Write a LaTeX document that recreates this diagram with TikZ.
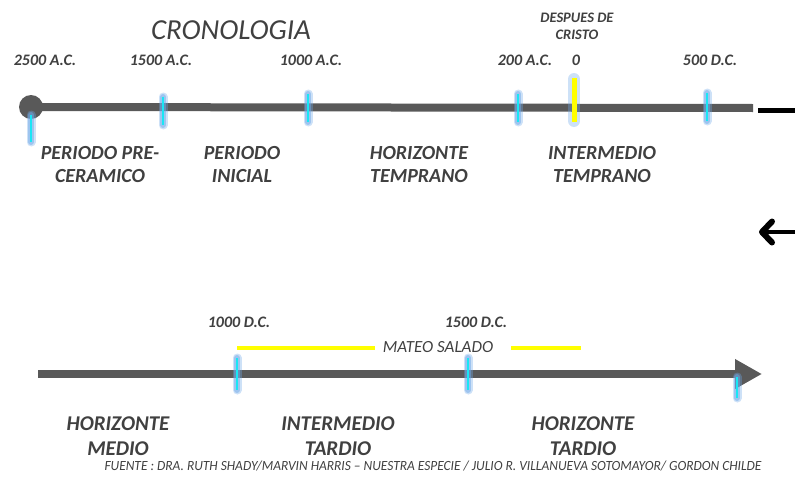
\documentclass[tikz,border=0pt]{standalone}
\usepackage{fontspec}
\setmainfont{Carlito}
\usetikzlibrary{arrows.meta}

\definecolor{eje}{HTML}{595959}
\definecolor{letra}{HTML}{404040}
\definecolor{celeste}{HTML}{19E6F5}
\definecolor{halo}{HTML}{6FA8E8}
\definecolor{amarillo}{HTML}{FFFF00}

\tikzset{
  linea/.style={eje, line width=8pt},
  fecha/.style={text=letra, inner sep=0pt, font=\fontsize{16}{18}\selectfont\bfseries\itshape},
  periodo/.style={text=letra, inner sep=0pt, align=center, font=\fontsize{20}{23}\selectfont\bfseries\itshape},
  periodob/.style={periodo, font=\fontsize{21}{25}\selectfont\bfseries\itshape},
  brillo/.style={halo, line width=9pt, line cap=round, opacity=0.35},
  brillob/.style={halo, line width=6pt, line cap=round, opacity=0.5},
  marca/.style={celeste, line width=1.8pt},
}

\begin{document}
\begin{tikzpicture}[x=1pt, y=-1pt]
      \useasboundingbox (0,0) rectangle (795,479);

      \node[text=letra, inner sep=0pt, font=\fontsize{29}{32}\selectfont\itshape] (titulo) at (231,30) {CRONOLOGIA};

      % linea superior
      \coordinate (fin1) at (753,108);
      \node[circle, fill=eje, minimum size=24pt, inner sep=0pt] (origen) at (31,107) {};
      \draw[linea] (origen.center) -- (fin1);
      \coordinate (raya1) at (758,110);
      \coordinate (raya2) at (795,110);
      \draw[black, line width=5pt] (raya1) -- (raya2);

      \foreach \x/\a/\b in {31/115/142, 163/97/125, 308/94/122, 518/94/122, 707/93/121} {
          \draw[brillo] (\x,\a) -- (\x,\b);
          \draw[brillob] (\x,\a) -- (\x,\b);
          \draw[marca] (\x,\a) -- (\x,\b);
        }
      \draw[brillo, line width=12pt] (574,79) -- (574,121);
      \draw[amarillo, line width=5pt] (574,78) -- (574,122);

      \node[fecha] (f2500) at (45,60.5) {2500 A.C.};
      \node[fecha] (f1500) at (161,60.5) {1500 A.C.};
      \node[fecha] (f1000) at (311,60.5) {1000 A.C.};
      \node[fecha] (f200) at (525,60.5) {200 A.C.};
      \node[fecha] (f0) at (576,60.5) {0};
      \node[fecha] (f500) at (710,60.5) {500 D.C.};
      \node[fecha, align=center, font=\fontsize{14.5}{17.5}\selectfont\bfseries\itshape] (cristo) at (577,26.5) {DESPUES DE\\CRISTO};

      \node[periodo] (precer) at (100,165) {PERIODO PRE-\\CERAMICO};
      \node[periodo] (inicial) at (242,165) {PERIODO\\INICIAL};
      \node[periodo] (htemp) at (419,165) {HORIZONTE\\TEMPRANO};
      \node[periodo] (itemp) at (602,165) {INTERMEDIO\\TEMPRANO};

      % flecha de regreso
      \coordinate (punta) at (759,232);
      \coordinate (cola) at (795,232);
      \draw[black, line width=4pt, {Straight Barb[length=10pt, width=21pt, line width=6pt, round]}-] (punta) -- (cola);

      % linea inferior
      \coordinate (ini2) at (38,374);
      \coordinate (fin2) at (762,374);
      \draw[linea, -{Triangle[length=27pt, width=28pt]}] (ini2) -- (fin2);

      \coordinate (mateo1) at (237,348);
      \coordinate (mateo2) at (375,348);
      \coordinate (mateo3) at (511,348);
      \coordinate (mateo4) at (581,348);
      \draw[amarillo, line width=4pt] (mateo1) -- (mateo2);
      \draw[amarillo, line width=4pt] (mateo3) -- (mateo4);
      \node[text=letra, inner sep=0pt, font=\fontsize{17}{19}\selectfont\itshape] (mateo) at (438,347) {MATEO SALADO};

      \foreach \x/\a/\b in {237/358/390, 468/358/390, 737/377/398} {
          \draw[brillo] (\x,\a) -- (\x,\b);
          \draw[brillob] (\x,\a) -- (\x,\b);
          \draw[marca] (\x,\a) -- (\x,\b);
        }

      \node[fecha] (g1000) at (239,322.5) {1000 D.C.};
      \node[fecha] (g1500) at (476,322.5) {1500 D.C.};

      \node[periodob] (hmedio) at (118,436) {HORIZONTE\\MEDIO};
      \node[periodob] (itardio) at (338,436) {INTERMEDIO\\TARDIO};
      \node[periodob] (htardio) at (583,436) {HORIZONTE\\TARDIO};

      \node[text=letra, inner sep=0pt, font=\fontsize{14}{16}\selectfont\itshape] (fuente) at (433,466)
        {\resizebox{657pt}{\height}{FUENTE : DRA. RUTH SHADY/MARVIN HARRIS -- NUESTRA ESPECIE / JULIO R. VILLANUEVA SOTOMAYOR/ GORDON CHILDE}};

    \end{tikzpicture}
\end{document}
